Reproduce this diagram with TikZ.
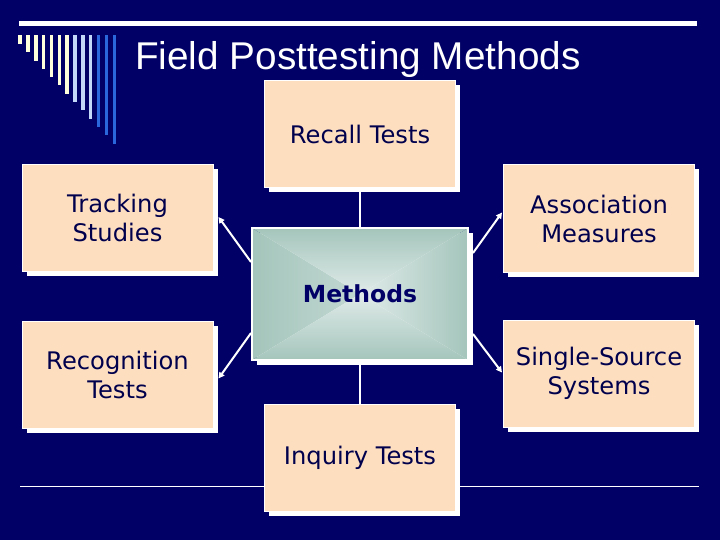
\documentclass[tikz,border=0pt]{standalone}
\usepackage{fontspec}
\setmainfont{DejaVu Sans}
\newfontfamily\titlefont{Liberation Sans}
\usetikzlibrary{arrows.meta,shadows,calc}
\definecolor{navy}{HTML}{000066}
\definecolor{peach}{HTML}{FDDFC0}
\definecolor{txt}{HTML}{00004D}
\definecolor{cream}{HTML}{FFFFDC}
\definecolor{paleblue}{HTML}{C4D8FA}
\definecolor{brightblue}{HTML}{2A66DC}
\definecolor{edgegreen}{HTML}{A4C5BB}
\definecolor{centergreen}{HTML}{E0EBE9}
\tikzset{
  pbox/.style={rectangle, fill=peach, draw=white, line width=1pt,
    minimum width=191pt, minimum height=107pt, text=txt,
    font=\fontsize{24.2}{29}\selectfont, align=center, inner sep=0pt,
    drop shadow={shadow xshift=4.5pt, shadow yshift=-4.5pt, fill=white, opacity=1}},
  cbox/.style={rectangle, draw=white, line width=2pt,
    minimum width=216pt, minimum height=132pt, inner sep=0pt,
    text=navy, font=\bfseries\fontsize{23.5}{28}\selectfont,
    drop shadow={shadow xshift=5pt, shadow yshift=-5pt, fill=white, opacity=1},
    path picture={
      \shade[left color=edgegreen, right color=centergreen]
        (path picture bounding box.north west) -- (path picture bounding box.center) -- (path picture bounding box.south west) -- cycle;
      \shade[right color=edgegreen, left color=centergreen]
        (path picture bounding box.north east) -- (path picture bounding box.center) -- (path picture bounding box.south east) -- cycle;
      \shade[top color=edgegreen, bottom color=centergreen]
        (path picture bounding box.north west) -- (path picture bounding box.center) -- (path picture bounding box.north east) -- cycle;
      \shade[bottom color=edgegreen, top color=centergreen]
        (path picture bounding box.south west) -- (path picture bounding box.center) -- (path picture bounding box.south east) -- cycle;
    }},
  conn/.style={white, line width=1.5pt},
  arr/.style={white, line width=2pt, -{Triangle[length=6pt,width=6pt]}}
}
\begin{document}
\begin{tikzpicture}[x=1pt,y=-1pt]
\fill[navy] (0,0) rectangle (720,540);
\useasboundingbox (0,0) rectangle (720,540);
% decorative bars
\foreach \i in {0,...,6} \fill[cream] ({18.3+7.85*\i},35.5) rectangle ({21.8+7.85*\i},{44+8.3*\i});
\foreach \i in {7,8,9} \fill[paleblue] ({18.3+7.85*\i},35.5) rectangle ({21.8+7.85*\i},{44+8.3*\i});
\foreach \i in {10,11,12} \fill[brightblue] ({18.3+7.85*\i},35.5) rectangle ({21.8+7.85*\i},{44+8.3*\i});
% rules
\draw[white, line width=5pt] (19,24) -- (697,24);
\draw[white, line width=1.2pt] (20,486.5) -- (699,486.5);
% title
\node[anchor=base west, text=white, inner sep=0pt, font=\titlefont\fontsize{38.7}{44}\selectfont] (title) at (135,69.5) {Field Posttesting Methods};
% boxes
\node[pbox] (recall) at (360,134) {Recall Tests};
\node[pbox] (tracking) at (117.5,218) {Tracking\\Studies};
\node[pbox] (assoc) at (599,218.5) {Association\\Measures};
\node[pbox] (recog) at (117.5,374.5) {Recognition\\Tests};
\node[pbox] (single) at (599,373.5) {Single-Source\\Systems};
\node[pbox] (inquiry) at (360,457.5) {Inquiry Tests};
\node[cbox] (methods) at (360,294) {Methods};
% connectors
\draw[conn] (recall.south) -- (methods.north);
\draw[conn] (methods.south) -- (inquiry.north);
\draw[arr] ([yshift=32pt]methods.west) -- ([xshift=5pt,yshift=1pt]tracking.east);
\draw[arr] ([yshift=-39pt]methods.west) -- ([xshift=5pt,yshift=-4pt]recog.east);
\draw[arr] ([xshift=4pt,yshift=41pt]methods.east) -- ([xshift=-1pt,yshift=6pt]assoc.west);
\draw[arr] ([xshift=4pt,yshift=-40pt]methods.east) -- ([xshift=-1pt,yshift=1pt]single.west);
\end{tikzpicture}
\end{document}
